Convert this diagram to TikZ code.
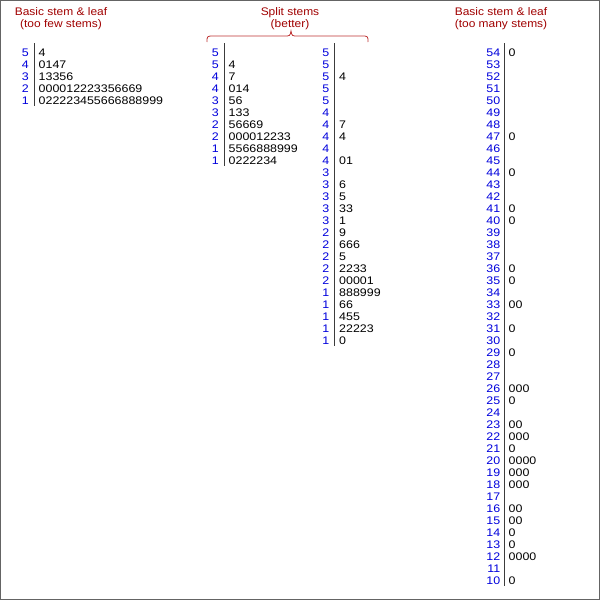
\documentclass[tikz,border=0pt]{standalone}
\usepackage{fontspec}
\setmainfont{Liberation Sans}[FakeStretch=1.13]
\newfontfamily\titlefont{Liberation Sans}[FakeStretch=1.087]

\definecolor{titlered}{RGB}{160,0,0}
\definecolor{bracered}{RGB}{190,50,50}
\definecolor{stemblue}{RGB}{0,0,220}
\definecolor{stemgray}{RGB}{60,60,60}
\definecolor{framegray}{RGB}{100,100,100}

\tikzset{
  title/.style={anchor=base,inner sep=0,text=titlered,
    font=\titlefont\fontsize{11}{12}\selectfont},
  stem/.style={anchor=base east,inner sep=0,text=stemblue},
  leaf/.style={anchor=base west,inner sep=0},
  stemline/.style={draw=stemgray,line width=1pt},
}

\begin{document}
\begin{tikzpicture}[x=1pt,y=-1pt,font=\fontsize{11}{12}\selectfont]
  \useasboundingbox (0,0) rectangle (600,600);
  \draw[framegray,line width=1pt] (0.5,0.5) rectangle (599.5,599.5);
  % Titles
  \node[title] (fewtitle) at (61,15) {Basic stem \& leaf};
  \node[title] (fewnote) at (61,27) {(too few stems)};
  \node[title] (splittitle) at (290,15) {Split stems};
  \node[title] (splitnote) at (290,27) {(better)};
  \node[title] (manytitle) at (501,15) {Basic stem \& leaf};
  \node[title] (manynote) at (501,27) {(too many stems)};
  % Brace over the split stems
  \draw[bracered,line width=0.8pt] (207,42) .. controls (207,36) .. (214,36)
    -- (284,36) .. controls (290,36) .. (291,31) .. controls (292,36) .. (298,36)
    -- (361,36) .. controls (368,36) .. (368,42);
  % Too few stems
  \foreach \s/\l [count=\i from 0] in {5/4,4/0147,3/13356,2/000012223356669,
      1/022223455666888999} {
    \node[stem] (fs\i) at (29,{56+12*\i}) {\s};
    \node[leaf] (fl\i) at (38.5,{56+12*\i}) {\l};
  }
  \draw[stemline] (34,43) -- (34,106);
  % Split stems, first half
  \foreach \s/\l [count=\i from 0] in {5/{},5/4,4/7,4/014,3/56,3/133,2/56669,
      2/000012233,1/5566888999,1/0222234} {
    \node[stem] (ss\i) at (219,{56+12*\i}) {\s};
    \node[leaf] (sl\i) at (228.5,{56+12*\i}) {\l};
  }
  \draw[stemline] (224.5,43) -- (224.5,166);
  % Split stems, second half
  \foreach \s/\l [count=\i from 0] in {5/{},5/{},5/4,5/{},5/{},4/{},4/7,4/4,
      4/{},4/01,3/{},3/6,3/5,3/33,3/1,2/9,2/666,2/5,2/2233,2/00001,
      1/888999,1/66,1/455,1/22223,1/0} {
    \node[stem] (ts\i) at (329.5,{56+12*\i}) {\s};
    \node[leaf] (tl\i) at (339,{56+12*\i}) {\l};
  }
  \draw[stemline] (334.5,43) -- (334.5,346);
  % Too many stems
  \foreach \s/\l [count=\i from 0] in {54/0,53/{},52/{},51/{},50/{},49/{},
      48/{},47/0,46/{},45/{},44/0,43/{},42/{},41/0,40/0,39/{},38/{},37/{},
      36/0,35/0,34/{},33/00,32/{},31/0,30/{},29/0,28/{},27/{},26/000,25/0,
      24/{},23/00,22/000,21/0,20/0000,19/000,18/000,17/{},16/00,15/00,
      14/0,13/0,12/0000,11/{},10/0} {
    \node[stem] (ms\i) at (500.5,{56+12*\i}) {\s};
    \node[leaf] (ml\i) at (508.5,{56+12*\i}) {\l};
  }
  \draw[stemline] (504.5,43) -- (504.5,586);
\end{tikzpicture}
\end{document}
